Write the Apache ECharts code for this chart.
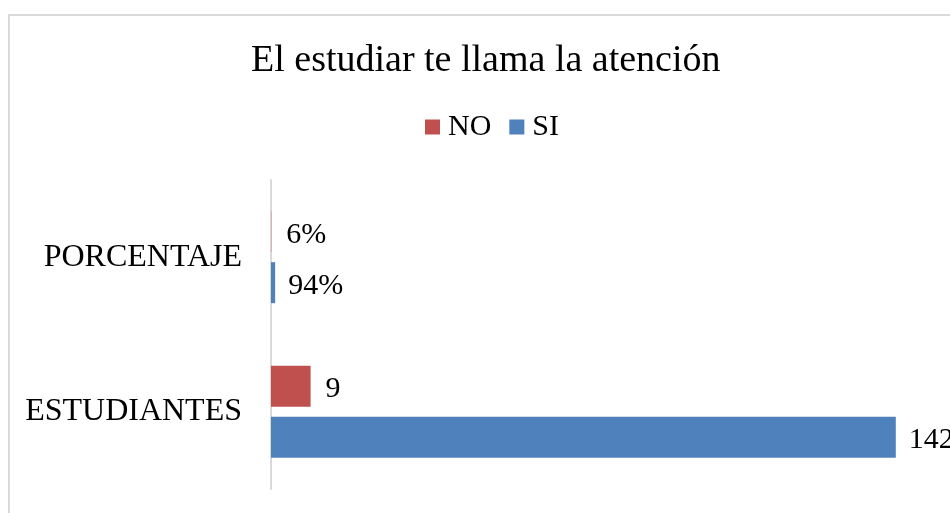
<!DOCTYPE html>
<html>
<head>
<meta charset="utf-8">
<script src="https://cdn.jsdelivr.net/npm/echarts@6/dist/echarts.min.js"></script>
<style>
  html, body { margin: 0; padding: 0; background: #fff; }
  #chart { width: 950px; height: 513px; }
</style>
</head>
<body>
<div id="chart"></div>
<script>
// datos
var categorias = ['ESTUDIANTES', 'PORCENTAJE'];
var valoresNo = [9, 0.06];
var valoresSi = [142, 0.94];

var fuente = '"Liberation Serif", "Times New Roman", serif';

function etiqueta(p) {
    if (p.name === 'PORCENTAJE') {
        return Math.round(p.value * 100) + '%';
    }
    return p.value;
}

var chart = echarts.init(document.getElementById('chart'));
var option = {
    animation: false,
    textStyle: { fontFamily: fuente },
    graphic: [{
        type: 'rect',
        shape: { x: 9, y: 15, width: 990, height: 540 },
        style: { fill: 'none', stroke: '#d9d9d9', lineWidth: 2 },
        silent: true
    }],
    title: {
        text: 'El estudiar te llama la atención',
        left: 246,
        top: 37,
        textStyle: { fontFamily: fuente, fontSize: 38, fontWeight: 'normal', color: '#000' }
    },
    legend: {
        data: ['NO', 'SI'],
        left: 420,
        top: 107,
        icon: 'rect',
        itemWidth: 15,
        itemHeight: 15,
        itemGap: 18,
        textStyle: { fontFamily: fuente, fontSize: 30, color: '#000', padding: [0, 0, 0, 3] }
    },
    grid: {
        left: 271,
        top: 180,
        height: 309,
        right: 19
    },
    xAxis: {
        type: 'value',
        min: 0,
        max: 150,
        show: false
    },
    yAxis: {
        type: 'category',
        data: categorias,
        axisLine: { show: true, lineStyle: { color: '#d9d9d9', width: 2 } },
        axisTick: { show: false },
        axisLabel: { fontFamily: fuente, fontSize: 32, color: '#000', margin: 29 }
    },
    series: [
        {
            name: 'NO',
            type: 'bar',
            data: valoresNo,
            barWidth: 41,
            barGap: '24%',
            itemStyle: { color: '#C0504D' },
            label: { show: true, position: 'right', distance: 15, fontFamily: fuente, fontSize: 30, color: '#000', offset: [0, 3], formatter: etiqueta }
        },
        {
            name: 'SI',
            type: 'bar',
            data: valoresSi,
            barWidth: 41,
            barGap: '24%',
            itemStyle: { color: '#4F81BD' },
            label: { show: true, position: 'right', distance: 13, fontFamily: fuente, fontSize: 30, color: '#000', offset: [0, 3], formatter: etiqueta }
        }
    ]
};
chart.setOption(option);

window.onresize = function(){
    chart.resize();
};
</script>
</body>
</html>
